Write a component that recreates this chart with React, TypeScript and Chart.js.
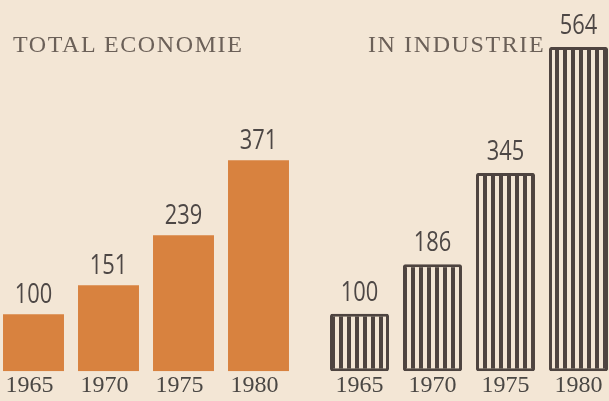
import React, { useEffect, useRef } from "react";
import { Chart, registerables } from "chart.js";

Chart.register(...registerables);

const YEARS = ["1965", "1970", "1975", "1980"];
const TOTAL_ECONOMIE = [100, 151, 239, 371];
const IN_INDUSTRIE = [100, 186, 345, 564];
const TITLE_LEFT = "TOTAL ECONOMIE";
const TITLE_RIGHT = "IN INDUSTRIE";

const BG = "#f3e6d5";
const ORANGE = "#d8823f";
const DARK = "#4e4440";
const NUM_COLOR = "#4d4745";
const YEAR_COLOR = "#4a4744";
const TITLE_COLOR = "#6b6058";

const valueLabels = {
  id: "valueLabels",
  afterDatasetsDraw(chart: any, _args: any, opts: any) {
    const ctx = chart.ctx;
    const meta = chart.getDatasetMeta(0);
    const data = chart.data.datasets[0].data;
    ctx.save();
    ctx.fillStyle = opts.color;
    ctx.font = "400 28px 'Open Sans'";
    ctx.textAlign = "center";
    ctx.textBaseline = "alphabetic";
    meta.data.forEach((bar: any, i: number) => {
      ctx.save();
      ctx.translate(bar.x, bar.y - opts.gap);
      ctx.scale(0.78, 1);
      ctx.fillText(String(data[i]), 0, 0);
      ctx.restore();
    });
    ctx.restore();
  },
};

function makeStripes(): CanvasPattern | string {
  const c = document.createElement("canvas");
  c.width = 8;
  c.height = 8;
  const g = c.getContext("2d");
  if (!g) return DARK;
  g.fillStyle = BG;
  g.fillRect(0, 0, 8, 8);
  g.fillStyle = DARK;
  g.fillRect(0, 0, 4, 8);
  const p = g.createPattern(c, "repeat");
  return p || DARK;
}

function baseOptions(max: number, gap: number, labelOffset: number) {
  return {
    animation: false,
    responsive: false,
    maintainAspectRatio: false,
    layout: { padding: { top: 0, bottom: 1, left: 0, right: 0 } },
    plugins: {
      legend: { display: false },
      tooltip: { enabled: false },
      title: { display: false },
      valueLabels: { gap, color: NUM_COLOR },
    },
    scales: {
      x: {
        grid: { display: false, drawTicks: false },
        border: { display: false },
        ticks: {
          autoSkip: false,
          maxRotation: 0,
          padding: 0,
          labelOffset,
          color: YEAR_COLOR,
          font: { family: "'Liberation Serif', serif", size: 24 },
        },
      },
      y: { display: false, min: 0, max },
    },
  };
}

export default function App() {
  const leftRef = useRef<HTMLCanvasElement | null>(null);
  const rightRef = useRef<HTMLCanvasElement | null>(null);

  useEffect(() => {
    document.body.style.margin = "0";
    const left = new Chart(leftRef.current as HTMLCanvasElement, {
      type: "bar",
      data: {
        labels: YEARS,
        datasets: [
          {
            data: TOTAL_ECONOMIE,
            backgroundColor: ORANGE,
            borderWidth: 0,
            barPercentage: 0.813,
            categoryPercentage: 1,
          },
        ],
      },
      options: baseOptions(653, 11, -4) as any,
      plugins: [valueLabels],
    });
    const right = new Chart(rightRef.current as HTMLCanvasElement, {
      type: "bar",
      data: {
        labels: YEARS,
        datasets: [
          {
            data: IN_INDUSTRIE,
            backgroundColor: makeStripes() as any,
            borderColor: DARK,
            borderWidth: 3,
            borderRadius: 2,
            borderSkipped: false,
            barPercentage: 0.808,
            categoryPercentage: 1,
          },
        ],
      },
      options: baseOptions(646, 13, 0) as any,
      plugins: [valueLabels],
    });
    return () => {
      left.destroy();
      right.destroy();
    };
  }, []);

  const titleStyle: React.CSSProperties = {
    position: "absolute",
    top: 32,
    fontFamily: "'Liberation Serif', serif",
    fontSize: 24,
    lineHeight: "24px",
    letterSpacing: "1.6px",
    color: TITLE_COLOR,
    whiteSpace: "nowrap",
  };

  return (
    <div
      style={{
        position: "fixed",
        left: 0,
        top: 0,
        width: 609,
        height: 401,
        overflow: "hidden",
        background: BG,
      }}
    >
      <canvas
        ref={leftRef}
        width={300}
        height={401}
        style={{ position: "absolute", left: -4, top: 0, width: 300, height: 401 }}
      />
      <canvas
        ref={rightRef}
        width={292}
        height={401}
        style={{ position: "absolute", left: 323, top: 0, width: 292, height: 401 }}
      />
      <div style={{ ...titleStyle, left: 13 }}>{TITLE_LEFT}</div>
      <div style={{ ...titleStyle, left: 368 }}>{TITLE_RIGHT}</div>
    </div>
  );
}
